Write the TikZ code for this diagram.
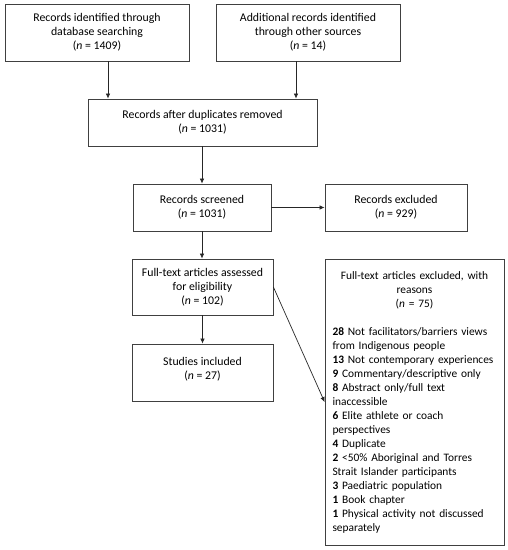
\documentclass[tikz,border=0pt]{standalone}
\usepackage{fontspec}
\setmainfont{Carlito}
\usetikzlibrary{arrows.meta}
\newcommand\myboxfont{\fontsize{11.8}{14.2}\selectfont\hyphenpenalty=10000\relax\exhyphenpenalty=10000\relax}
\newcommand\mylistfont{\fontsize{11.4}{14}\selectfont\hyphenpenalty=10000\relax\exhyphenpenalty=10000\relax}
\begin{document}
\begin{tikzpicture}[x=1pt,y=-1pt,
  box/.style={draw=black!75,line width=0.8pt,rectangle,inner sep=0pt,align=center,
    font=\myboxfont},
  arr/.style={draw=black!85,line width=0.7pt,-{Latex[length=5pt,width=4.5pt]}}]
\useasboundingbox (0,0) rectangle (508,550);
\node[box,minimum width=184pt,minimum height=57pt] (b1) at (97,32.5)
  {Records identified through\\database searching\\(\textit{n} = 1409)};
\node[box,minimum width=184pt,minimum height=57pt] (b2) at (308,32.5)
  {Additional records identified\\through other sources\\(\textit{n} = 14)};
\node[box,minimum width=229pt,minimum height=47pt] (b3) at (202.5,122.5)
  {Records after duplicates removed\\(\textit{n} = 1031)};
\node[box,minimum width=138pt,minimum height=47pt] (b4) at (202,207.5)
  {Records screened\\(\textit{n} = 1031)};
\node[box,minimum width=142pt,minimum height=47pt] (b5) at (396,207.5)
  {Records excluded\\(\textit{n} = 929)};
\node[box,minimum width=141pt,minimum height=56pt] (b6) at (202.5,287)
  {Full-text articles assessed\\for eligibility\\(\textit{n} = 102)};
\node[box,minimum width=141pt,minimum height=57pt,text depth=9pt] (b7) at (202.5,372.5)
  {Studies included\\(\textit{n} = 27)};
\node[box,font=\mylistfont,minimum width=179pt,minimum height=286pt,text width=164pt,align=left] (b8) at (414.5,402)
  {{\centering Full-text articles excluded, with\\reasons\\(\textit{n} = 75)\par}\vspace{14pt}
   \mbox{\textbf{28} Not facilitators/barriers views}\\
   from Indigenous people\\
   \mbox{\textbf{13} Not contemporary experiences}\\
   \textbf{9} Commentary/descriptive only\\
   \textbf{8} Abstract only/full text\\
   inaccessible\\
   \textbf{6} Elite athlete or coach\\
   perspectives\\
   \textbf{4} Duplicate\\
   \textbf{2} <50\% Aboriginal and Torres\\
   Strait Islander participants\\
   \textbf{3} Paediatric population\\
   \textbf{1} Book chapter\\
   \mbox{\textbf{1} Physical activity not discussed}\\
   separately};
\coordinate (a1) at (108,0);
\coordinate (a2) at (296,0);
\draw[arr] (a1 |- b1.south) -- (a1 |- b3.north);
\draw[arr] (a2 |- b2.south) -- (a2 |- b3.north);
\draw[arr] (b3.south -| b4.north) -- (b4.north);
\draw[arr] (b4.east) -- (b5.west);
\draw[arr] (b4.south) -- (b6.north -| b4.south);
\draw[arr] (b6.south) -- (b7.north);
\draw[arr] (b6.east) -- (b8.west);
\end{tikzpicture}
\end{document}
